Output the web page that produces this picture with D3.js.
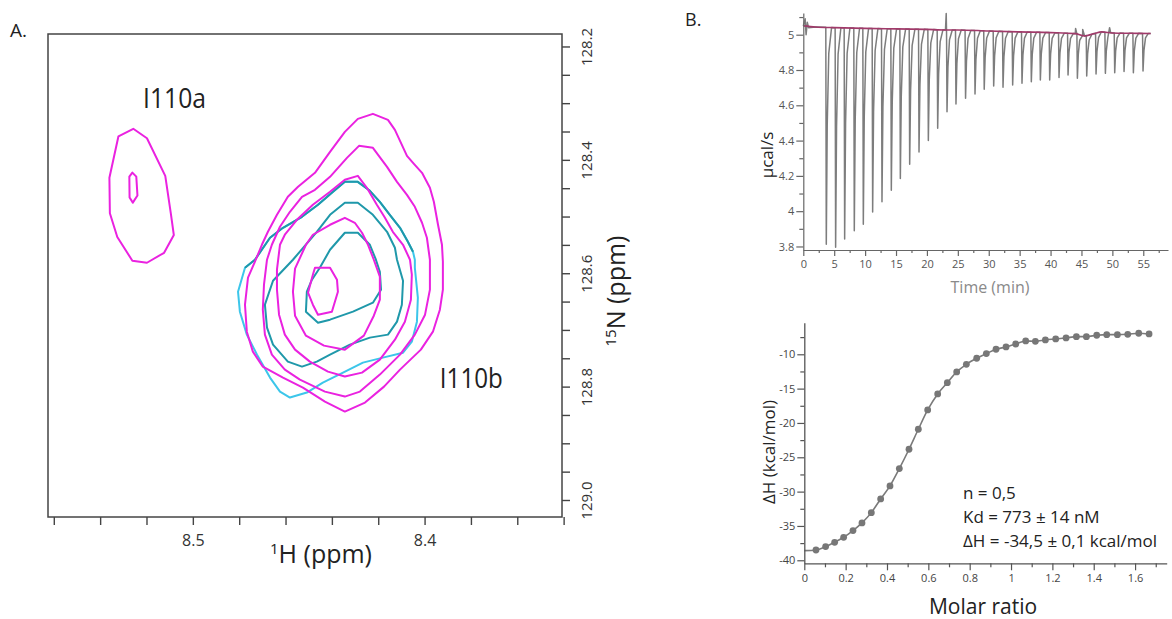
<!DOCTYPE html>
<html><head><meta charset="utf-8">
<script src="https://cdn.jsdelivr.net/npm/d3@7"></script>
<style>
body{margin:0;background:#fff;}
svg{display:block;font-family:'Open Sans',sans-serif;}
</style>
</head><body>
<svg id="chart" width="1172" height="619"></svg>
<script>
// ---------------- Panel A: 1H-15N HSQC contours (ppm) ----------------
const hTickValues = [8.56,8.54,8.52,8.50,8.48,8.46,8.44,8.42,8.40,8.38,8.36,8.34];
const hTickLabels = [8.5, 8.4];
const nTickValues = [128.20,128.25,128.30,128.35,128.40,128.45,128.50,128.55,128.60,128.65,128.70,128.75,128.80,128.85,128.90,128.95,129.00];
const nTickLabels = [128.2,128.4,128.6,128.8,129.0];
const peakNames = ["I110a","I110b"];
const peakLabelH = [8.5215, 8.3934];
const peakLabelN = [128.3084, 128.8017];

const i110aOuter = [[8.5257,128.3452],[8.5198,128.3619],[8.5119,128.4282],[8.5095,128.4943],[8.5082,128.5327],[8.5124,128.5639],[8.5198,128.5815],[8.5261,128.5779],[8.5326,128.5360],[8.5358,128.4943],[8.5360,128.4317],[8.5321,128.3584]];
const i110aInner = [[8.5261,128.4225],[8.5244,128.4296],[8.5239,128.4629],[8.5259,128.4754],[8.5273,128.4664],[8.5274,128.4296]];
const magenta1 = [[8.4223,128.3189],[8.4158,128.3295],[8.4128,128.3471],[8.4076,128.3929],[8.4046,128.4070],[8.4011,128.4229],[8.3977,128.4493],[8.3960,128.4740],[8.3942,128.5145],[8.3925,128.5498],[8.3921,128.5797],[8.3921,128.6290],[8.3934,128.6643],[8.3964,128.7031],[8.4016,128.7348],[8.4106,128.7700],[8.4175,128.8000],[8.4257,128.8282],[8.4344,128.8440],[8.4430,128.8264],[8.4525,128.8017],[8.4611,128.7841],[8.4698,128.7647],[8.4741,128.7383],[8.4767,128.7031],[8.4775,128.6555],[8.4762,128.6079],[8.4732,128.5797],[8.4702,128.5498],[8.4676,128.5269],[8.4637,128.4969],[8.4590,128.4652],[8.4546,128.4476],[8.4473,128.4229],[8.4408,128.3859],[8.4344,128.3507],[8.4288,128.3277]];
const magenta2 = [[8.4283,128.3753],[8.4223,128.3788],[8.4162,128.4123],[8.4119,128.4388],[8.4076,128.4617],[8.4042,128.4828],[8.4011,128.5110],[8.3990,128.5374],[8.3977,128.5762],[8.3977,128.6290],[8.3998,128.6731],[8.4042,128.7083],[8.4106,128.7436],[8.4193,128.7788],[8.4279,128.8088],[8.4344,128.8176],[8.4430,128.8088],[8.4538,128.7876],[8.4603,128.7700],[8.4659,128.7436],[8.4689,128.7083],[8.4698,128.6643],[8.4693,128.6202],[8.4680,128.5762],[8.4659,128.5498],[8.4624,128.5180],[8.4581,128.4916],[8.4529,128.4652],[8.4473,128.4528],[8.4408,128.4299],[8.4335,128.3965]];
const magenta3 = [[8.4288,128.4282],[8.4249,128.4493],[8.4206,128.4793],[8.4171,128.5022],[8.4137,128.5269],[8.4093,128.5498],[8.4063,128.5762],[8.4055,128.6026],[8.4059,128.6467],[8.4085,128.6854],[8.4128,128.7172],[8.4193,128.7524],[8.4270,128.7753],[8.4344,128.7823],[8.4417,128.7735],[8.4495,128.7559],[8.4559,128.7348],[8.4603,128.7083],[8.4628,128.6731],[8.4637,128.6290],[8.4637,128.5938],[8.4624,128.5498],[8.4603,128.5321],[8.4551,128.5057],[8.4482,128.4793],[8.4408,128.4564],[8.4344,128.4352]];
const magenta4 = [[8.4344,128.5022],[8.4301,128.5110],[8.4270,128.5286],[8.4244,128.5498],[8.4219,128.5762],[8.4193,128.6061],[8.4193,128.6467],[8.4219,128.6749],[8.4262,128.7101],[8.4344,128.7348],[8.4434,128.7277],[8.4512,128.7101],[8.4559,128.6749],[8.4568,128.6326],[8.4559,128.5920],[8.4512,128.5498],[8.4482,128.5321],[8.4408,128.5145]];
const magenta5 = [[8.4473,128.5903],[8.4408,128.5903],[8.4378,128.6114],[8.4374,128.6326],[8.4400,128.6678],[8.4460,128.6731],[8.4482,128.6555],[8.4503,128.6343],[8.4482,128.6026]];
const cyan1 = [[8.4344,128.4388],[8.4288,128.4388],[8.4236,128.4546],[8.4193,128.4740],[8.4150,128.4969],[8.4106,128.5198],[8.4072,128.5445],[8.4050,128.5621],[8.4042,128.5762],[8.4042,128.5903],[8.4029,128.6431],[8.4033,128.6854],[8.4055,128.7207],[8.4093,128.7401],[8.4180,128.7489],[8.4266,128.7577],[8.4352,128.7753],[8.4439,128.7929],[8.4508,128.8105],[8.4581,128.8193],[8.4624,128.8088],[8.4667,128.7841],[8.4723,128.7436],[8.4767,128.7083],[8.4797,128.6678],[8.4805,128.6326],[8.4775,128.5903],[8.4732,128.5762],[8.4667,128.5374],[8.4611,128.5198],[8.4529,128.5004],[8.4460,128.4793],[8.4395,128.4564]];
const teal1 = [[8.4775,128.5903],[8.4732,128.5762],[8.4667,128.5374],[8.4611,128.5198],[8.4529,128.5004],[8.4460,128.4793],[8.4395,128.4564],[8.4344,128.4388],[8.4288,128.4388],[8.4236,128.4546],[8.4193,128.4740],[8.4150,128.4969],[8.4106,128.5198],[8.4072,128.5445],[8.4050,128.5621]];
const teal2 = [[8.4344,128.4758],[8.4288,128.4758],[8.4223,128.4969],[8.4162,128.5269],[8.4128,128.5550],[8.4119,128.5762],[8.4093,128.6132],[8.4098,128.6555],[8.4119,128.6854],[8.4158,128.7083],[8.4236,128.7136],[8.4322,128.7260],[8.4408,128.7436],[8.4465,128.7559],[8.4529,128.7647],[8.4590,128.7559],[8.4654,128.7260],[8.4680,128.6960],[8.4689,128.6555],[8.4654,128.6132],[8.4568,128.5762],[8.4465,128.5269],[8.4408,128.4969]];
const teal3 = [[8.4344,128.5286],[8.4288,128.5286],[8.4236,128.5498],[8.4210,128.5762],[8.4193,128.5973],[8.4188,128.6290],[8.4223,128.6520],[8.4309,128.6678],[8.4408,128.6819],[8.4460,128.6872],[8.4512,128.6678],[8.4508,128.6326],[8.4486,128.6114],[8.4452,128.5903],[8.4408,128.5586]];

// ---------------- Panel B (top): raw ITC thermogram ----------------
const timeTicks = [0,2.5,5,7.5,10,12.5,15,17.5,20,22.5,25,27.5,30,32.5,35,37.5,40,42.5,45,47.5,50,52.5,55,57.5];
const timeTickLabels = [0,5,10,15,20,25,30,35,40,45,50,55];
const powerTicks = [3.8,3.9,4.0,4.1,4.2,4.3,4.4,4.5,4.6,4.7,4.8,4.9,5.0,5.1];
const powerTickLabels = [3.8,4.0,4.2,4.4,4.6,4.8,5.0];
const baseTimes  = [0, 2, 5, 10, 15, 20, 23, 25, 30, 35, 40, 44, 45.5, 47, 48.3, 50, 53, 56.2];
const baseValues = [5.050, 5.044, 5.040, 5.036, 5.033, 5.030, 5.027, 5.027, 5.021, 5.016, 5.012, 5.006, 4.993, 5.006, 5.016, 5.010, 5.008, 5.007];
const injTimes = [3.67,5.18,6.64,8.20,9.66,11.17,12.68,14.19,15.65,17.16,18.67,20.18,21.69,23.20,24.65,26.20,27.73,29.22,30.75,32.26,33.82,35.33,36.84,38.30,39.81,41.32,42.78,44.29,45.80,47.31,48.82,50.33,51.84,53.35,54.91];
const injMins  = [3.813,3.796,3.842,3.889,3.926,3.996,4.053,4.119,4.185,4.266,4.336,4.400,4.470,4.564,4.608,4.640,4.664,4.691,4.709,4.702,4.715,4.725,4.734,4.743,4.743,4.758,4.772,4.753,4.766,4.777,4.781,4.785,4.791,4.785,4.794];
const spikeProfile = [[-0.03,0],[0.05,1],[0.2,0.45],[0.45,0.12],[0.9,0]];
const artifacts = [[0.30,5.09],[0.45,5.00],[0.65,5.07],[0.85,5.04],[23.12,5.12],[44.05,5.035],[44.7,4.965],[45.2,5.03],[49.55,5.04]];

// ---------------- Panel B (bottom): integrated heats ----------------
const ratioTicks = [0,0.1,0.2,0.3,0.4,0.5,0.6,0.7,0.8,0.9,1.0,1.1,1.2,1.3,1.4,1.5,1.6,1.7];
const ratioTickLabels = [0,0.2,0.4,0.6,0.8,1.0,1.2,1.4,1.6];
const heatTicks = [-40,-37.5,-35,-32.5,-30,-27.5,-25,-22.5,-20,-17.5,-15,-12.5,-10,-7.5];
const heatTickLabels = [-40,-35,-30,-25,-20,-15,-10];
const molarRatio = [0.0565,0.1032,0.1468,0.1903,0.2355,0.2790,0.3242,0.3694,0.4145,0.4597,0.5065,0.5516,0.5968,0.6452,0.6919,0.7371,0.7839,0.8339,0.8806,0.9274,0.9758,1.0226,1.0710,1.1177,1.1661,1.2161,1.2661,1.3161,1.3645,1.4145,1.4629,1.5145,1.5645,1.6177,1.6677];
const deltaH = [-38.50,-38.01,-37.38,-36.65,-35.68,-34.56,-33.06,-31.07,-29.17,-26.65,-23.83,-20.92,-18.11,-15.78,-14.13,-12.57,-11.46,-10.58,-9.90,-9.27,-8.93,-8.50,-8.06,-8.11,-7.91,-7.77,-7.62,-7.43,-7.43,-7.23,-7.14,-7.14,-7.09,-6.94,-7.04];
const fitStart = [0, -38.6];
const fitLines = ["n = 0,5", "Kd = 773 ± 14 nM", "ΔH = -34,5 ± 0,1 kcal/mol"];

// ======================================================================
const svg = d3.select("#chart");
svg.append("rect").attr("width",1172).attr("height",619).attr("fill","#fff");

// ---------- Panel A ----------
const xA = d3.scaleLinear().domain([8.5625, 8.3407]).range([48, 562]);
const yA = d3.scaleLinear().domain([128.178, 129.030]).range([34, 517]);
const gA = svg.append("g");

const lineA = d3.line().x(d => xA(d[0])).y(d => yA(d[1])).curve(d3.curveLinearClosed);
const lineAOpen = d3.line().x(d => xA(d[0])).y(d => yA(d[1]));
const MAG = "#ea22e0", TEAL = "#1f98aa", CYAN = "#3cc6ea";
const contours = [
  {d: cyan1, c: CYAN, closed: true},
  {d: teal1, c: TEAL, closed: false},
  {d: teal2, c: TEAL, closed: true},
  {d: teal3, c: TEAL, closed: true},
  {d: i110aOuter, c: MAG, closed: true},
  {d: i110aInner, c: MAG, closed: true},
  {d: magenta1, c: MAG, closed: true},
  {d: magenta2, c: MAG, closed: true},
  {d: magenta3, c: MAG, closed: true},
  {d: magenta4, c: MAG, closed: true},
  {d: magenta5, c: MAG, closed: true}
];
gA.selectAll("path.contour").data(contours).join("path")
  .attr("class","contour")
  .attr("d", d => d.closed ? lineA(d.d) : lineAOpen(d.d))
  .attr("fill","none").attr("stroke", d => d.c).attr("stroke-width", 2)
  .attr("stroke-linejoin","round");

gA.append("rect").attr("x",48).attr("y",34).attr("width",514).attr("height",483)
  .attr("fill","none").attr("stroke","#444").attr("stroke-width",1.5);

const axH = gA.append("g").attr("transform","translate(0,517)")
  .call(d3.axisBottom(xA).tickValues(hTickValues).tickSize(8).tickSizeOuter(0)
    .tickFormat(d => hTickLabels.some(v => Math.abs(v-d) < 1e-6) ? d.toFixed(1) : ""));
axH.select(".domain").remove();
axH.selectAll(".tick line").attr("stroke","#444").attr("stroke-width",1.4);
axH.selectAll(".tick text").attr("font-size",16).attr("fill","#333").attr("font-family","'Open Sans',sans-serif").attr("dy","1.15em");

const axN = gA.append("g").attr("transform","translate(562,0)")
  .call(d3.axisRight(yA).tickValues(nTickValues).tickSize(8).tickSizeOuter(0)
    .tickFormat(d => nTickLabels.some(v => Math.abs(v-d) < 1e-6) ? d.toFixed(1) : ""));
axN.select(".domain").remove();
axN.selectAll(".tick line").attr("stroke","#444").attr("stroke-width",1.4);
axN.selectAll(".tick text").attr("font-size",15).attr("fill","#333").attr("font-family","'Open Sans',sans-serif")
  .attr("transform","rotate(-90)").attr("x",0).attr("y",30).attr("dy",0).attr("text-anchor","middle");

const xt = gA.append("text").attr("x",321).attr("y",563).attr("text-anchor","middle").attr("fill","#222").attr("font-size",25);
xt.append("tspan").attr("font-size",15).attr("dy",-9).text("1");
xt.append("tspan").attr("dy",9).text("H (ppm)");

const yt = gA.append("text").attr("transform","translate(625,291) rotate(-90)").attr("text-anchor","middle").attr("fill","#222").attr("font-size",25);
yt.append("tspan").attr("font-size",15).attr("dy",-9).text("15");
yt.append("tspan").attr("dy",9).text("N (ppm)");

gA.selectAll("text.peak").data(peakNames).join("text").attr("class","peak")
  .attr("x",(d,i)=>xA(peakLabelH[i])).attr("y",(d,i)=>yA(peakLabelN[i]))
  .attr("font-size",27).attr("fill","#222").attr("textLength",63).attr("lengthAdjust","spacingAndGlyphs")
  .text(d=>d);

svg.append("text").attr("x",10).attr("y",37).attr("font-size",19).attr("fill","#222").text("A.");
svg.append("text").attr("x",685).attr("y",26).attr("font-size",18).attr("fill","#222").text("B.");

// ---------- Panel B top ----------
const xT = d3.scaleLinear().domain([0,59]).range([803.3,1168]);
const yT = d3.scaleLinear().domain([3.78,5.123]).range([250,13]);
const gT = svg.append("g");

function baseAt(t){
  const i = d3.bisectRight(baseTimes, t);
  if (i <= 0) return baseValues[0];
  if (i >= baseTimes.length) return baseValues[baseValues.length-1];
  const t0 = baseTimes[i-1], t1 = baseTimes[i];
  return baseValues[i-1] + (baseValues[i]-baseValues[i-1])*(t-t0)/(t1-t0);
}
const inSpike = t => injTimes.some(t0 => t > t0-0.05 && t < t0+0.95);
let trace = [];
baseTimes.forEach((t,i) => { if (!inSpike(t)) trace.push([t, baseValues[i]]); });
injTimes.forEach((t0,i) => spikeProfile.forEach(([dt,f]) => {
  const b = baseAt(t0+dt); trace.push([t0+dt, b - f*(b-injMins[i])]);
}));
artifacts.forEach(a => trace.push(a));
trace.sort((a,b) => a[0]-b[0]);

gT.append("path").attr("d", d3.line().x(d=>xT(d[0])).y(d=>yT(d[1]))(trace))
  .attr("fill","none").attr("stroke","#7d7d7d").attr("stroke-width",1.5).attr("stroke-linejoin","round");
gT.append("path").attr("d", d3.line().x((d)=>xT(d)).y((d,i)=>yT(baseValues[i])).curve(d3.curveMonotoneX)(baseTimes))
  .attr("fill","none").attr("stroke","#a13a6a").attr("stroke-width",1.6);

const axTx = gT.append("g").attr("transform","translate(0,250)")
  .call(d3.axisBottom(xT).tickValues(timeTicks).tickSizeOuter(0)
    .tickFormat(d => timeTickLabels.includes(d) ? String(d) : ""));
axTx.selectAll(".tick line").attr("y2", d => timeTickLabels.includes(d) ? 6 : 3);
const axTy = gT.append("g").attr("transform","translate(803.3,0)")
  .call(d3.axisLeft(yT).tickValues(powerTicks).tickSizeOuter(0)
    .tickFormat(d => powerTickLabels.some(v=>Math.abs(v-d)<1e-6) ? String(+d.toFixed(1)) : ""));
axTy.selectAll(".tick line").attr("x2", d => powerTickLabels.some(v=>Math.abs(v-d)<1e-6) ? -7 : -4);
[axTx, axTy].forEach(a => {
  a.select(".domain").attr("stroke","#666").attr("stroke-width",1.2);
  a.selectAll(".tick line").attr("stroke","#666").attr("stroke-width",1.2);
  a.selectAll(".tick text").attr("font-size",11).attr("fill","#555").attr("font-family","'Open Sans',sans-serif");
});
axTy.selectAll(".tick text").attr("x",-9);
axTx.selectAll(".tick text").attr("y",10);
gT.append("text").attr("x",990).attr("y",293).attr("text-anchor","middle").attr("font-size",16).attr("fill","#8a8a8a").text("Time (min)");
gT.append("text").attr("transform","translate(773,155) rotate(-90)").attr("text-anchor","middle").attr("font-size",17).attr("fill","#222").text("µcal/s");

// ---------- Panel B bottom ----------
const xB = d3.scaleLinear().domain([0,1.753]).range([804.3,1166.7]);
const yB = d3.scaleLinear().domain([-40.44,-5.4]).range([563.3,322.7]);
const gB = svg.append("g");
const fitPts = [fitStart].concat(molarRatio.map((r,i)=>[r, deltaH[i]]));
gB.append("path").attr("d", d3.line().x(d=>xB(d[0])).y(d=>yB(d[1])).curve(d3.curveMonotoneX)(fitPts))
  .attr("fill","none").attr("stroke","#7a7a7a").attr("stroke-width",1.6);
gB.selectAll("circle").data(molarRatio).join("circle")
  .attr("cx", d => xB(d)).attr("cy", (d,i) => yB(deltaH[i])).attr("r",3.4).attr("fill","#777");

const axBx = gB.append("g").attr("transform","translate(0,563.3)")
  .call(d3.axisBottom(xB).tickValues(ratioTicks).tickSizeOuter(0)
    .tickFormat(d => ratioTickLabels.some(v=>Math.abs(v-d)<1e-6) ? String(+d.toFixed(1)) : ""));
axBx.selectAll(".tick line").attr("y2", d => ratioTickLabels.some(v=>Math.abs(v-d)<1e-6) ? 7 : 4);
const axBy = gB.append("g").attr("transform","translate(804.3,0)")
  .call(d3.axisLeft(yB).tickValues(heatTicks).tickSizeOuter(0)
    .tickFormat(d => heatTickLabels.includes(d) ? String(d) : ""));
axBy.selectAll(".tick line").attr("x2", d => heatTickLabels.includes(d) ? -7 : -4);
[axBx, axBy].forEach(a => {
  a.select(".domain").attr("stroke","#555").attr("stroke-width",1.3);
  a.selectAll(".tick line").attr("stroke","#555").attr("stroke-width",1.2);
  a.selectAll(".tick text").attr("font-size",11).attr("fill","#444").attr("font-family","'Open Sans',sans-serif");
});
axBy.selectAll(".tick text").attr("x",-9);
axBx.selectAll(".tick text").attr("y",11);
gB.append("text").attr("x",983).attr("y",614).attr("text-anchor","middle").attr("font-size",21).attr("fill","#222").text("Molar ratio");
gB.append("text").attr("transform","translate(775,452) rotate(-90)").attr("text-anchor","middle").attr("font-size",17).attr("fill","#222").text("ΔH (kcal/mol)");
gB.selectAll("text.fit").data(fitLines).join("text").attr("class","fit")
  .attr("x",963).attr("y",(d,i)=>499+i*24).attr("font-size",17).attr("fill","#222").text(d=>d);
</script>
</body></html>
